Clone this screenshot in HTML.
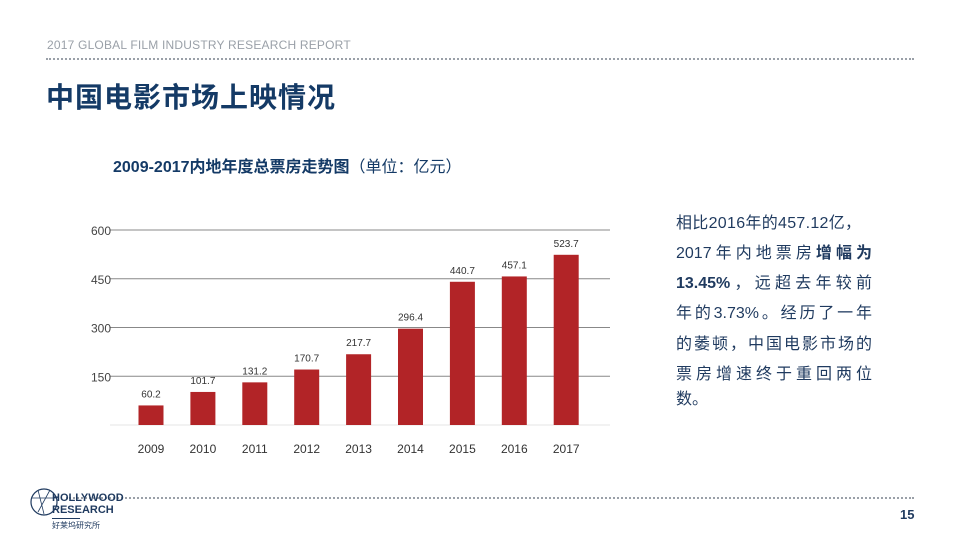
<!DOCTYPE html>
<html><head><meta charset="utf-8">
<style>
html,body{margin:0;padding:0;}
body{width:960px;height:540px;position:relative;background:#fff;overflow:hidden;font-family:"Liberation Sans","Noto Sans CJK SC",sans-serif;}
.abs{position:absolute;}
.dot{position:absolute;height:0;border-top:2px dotted #9aa0a8;}
.para div{position:absolute;left:676px;width:196px;font-size:16px;color:#1f3a5f;white-space:nowrap;text-align:justify;text-align-last:justify;line-height:20px;}
</style></head><body>
<div class="abs" style="left:47px;top:38px;font-size:12px;color:#9aa0a8;letter-spacing:0.2px;">2017 GLOBAL FILM INDUSTRY RESEARCH REPORT</div>
<div class="dot" style="left:46px;top:58px;width:868px;"></div>
<div class="abs" style="left:46px;top:76px;font-size:28px;font-weight:bold;color:#143a66;letter-spacing:1px;">中国电影市场上映情况</div>
<div class="abs" style="left:113px;top:153px;font-size:16px;font-weight:bold;color:#143a66;">2009-2017内地年度总票房走势图<span style="font-weight:normal">（单位：亿元）</span></div>

<svg class="abs" style="left:0;top:0" width="960" height="540" id="chart"></svg>

<div class="para">
<div style="top:214px;text-align-last:left;letter-spacing:0.3px;">相比2016年的457.12亿，</div>
<div style="top:244px;">2017年内地票房<b>增幅为</b></div>
<div style="top:274px;"><b>13.45%</b>，远超去年较前</div>
<div style="top:304px;">年的3.73%。经历了一年</div>
<div style="top:335px;">的萎顿，中国电影市场的</div>
<div style="top:365px;">票房增速终于重回两位</div>
<div style="top:390px;text-align-last:left;">数。</div>
</div>

<div class="dot" style="left:66px;top:497px;width:848px;"></div>
<svg class="abs" style="left:28px;top:486px" width="30" height="34"><circle cx="16" cy="16" r="13" fill="none" stroke="#1f3a5f" stroke-width="1.2"/><path d="M4 12 L28 12 M10 4 L16 28 M22 4 L10 26" stroke="#1f3a5f" stroke-width="0.8" fill="none"/></svg>
<div class="abs" style="left:52px;top:492px;font-size:11px;font-weight:bold;color:#1f3a5f;line-height:12px;">HOLLYWOOD<br>RESEARCH</div>
<div class="abs" style="left:52px;top:520px;font-size:8px;color:#1f3a5f;">好莱坞研究所</div>
<div class="abs" style="left:52px;top:518px;width:28px;border-top:1px solid #1f3a5f"></div>
<div class="abs" style="left:900px;top:507px;font-size:13px;font-weight:bold;color:#1f3a5f;">15</div>

<script>
const years=["2009","2010","2011","2012","2013","2014","2015","2016","2017"];
const values=[60.2,101.7,131.2,170.7,217.7,296.4,440.7,457.1,523.7];
const valueLabels=["60.2","101.7","131.2","170.7","217.7","296.4","440.7","457.1","523.7"];
const ticks=[150,300,450,600];
const NS="http://www.w3.org/2000/svg";
const svg=document.getElementById('chart');
const y=v=>425-v*(195/600);
const x=i=>151+i*51.9;
function mk(t,a){const e=document.createElementNS(NS,t);for(const k in a)e.setAttribute(k,a[k]);svg.appendChild(e);return e;}
const base=mk('line',{x1:110,x2:610,y1:425,y2:425,stroke:'#e4e4e4','stroke-width':1});


ticks.forEach(t=>{
  const l=mk('line',{x1:110,x2:610,y1:y(t),y2:y(t),stroke:'#888','stroke-width':1});
  
  
  const tx=mk('text',{x:111,y:y(t)+5,'text-anchor':'end','font-size':12,fill:'#444','font-family':'Liberation Sans, sans-serif'});
  tx.textContent=t;
  
  
});
values.forEach((v,i)=>{
  const r=mk('rect',{x:x(i)-12.5,y:y(v),width:25,height:425-y(v),fill:'#b22427'});
  
  
  const lb=mk('text',{x:x(i),y:y(v)-8,'text-anchor':'middle','font-size':10,fill:'#333','font-family':'Liberation Sans, sans-serif'});
  lb.textContent=valueLabels[i];
  
  
  const xl=mk('text',{x:x(i),y:453,'text-anchor':'middle','font-size':12,fill:'#333','font-family':'Liberation Sans, sans-serif'});
  xl.textContent=years[i];
  
  
});
</script>
</body></html>
